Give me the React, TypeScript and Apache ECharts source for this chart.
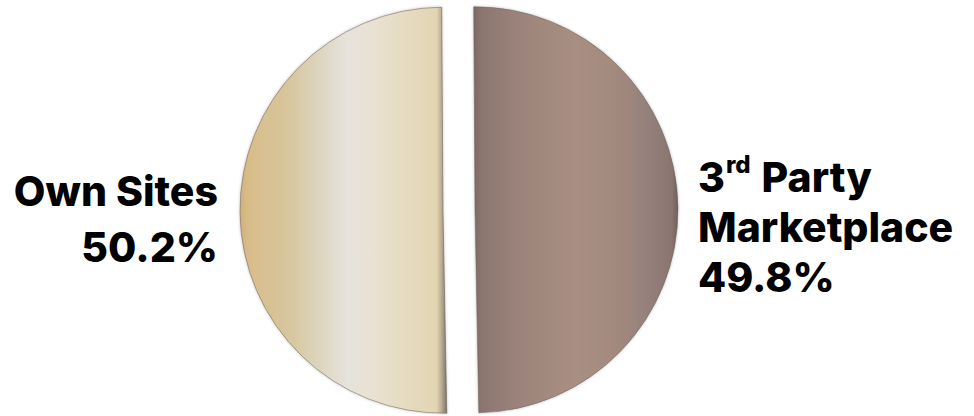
import React, { useEffect, useRef } from "react";
import * as echarts from "echarts";

const categories = ["Own Sites", "3rd Party Marketplace"];
const shares = [50.2, 49.8];
const labelLines = [["Own Sites"], ["3{sup|rd} Party", "Marketplace"]];

export default function App() {
  const ref = useRef<HTMLDivElement>(null);
  useEffect(() => {
    document.body.style.margin = "0";
    const chart = echarts.init(ref.current!, null, { renderer: "svg" });
    const leftGrad = new echarts.graphic.LinearGradient(0, 0, 1, 0, [
      { offset: 0, color: "#cfb07c" },
      { offset: 0.04, color: "#d8bd8a" },
      { offset: 0.23, color: "#d7c59c" },
      { offset: 0.39, color: "#dcd6c0" },
      { offset: 0.52, color: "#e6e3dc" },
      { offset: 0.64, color: "#e9e2d2" },
      { offset: 0.8, color: "#e6dbc0" },
      { offset: 0.95, color: "#e2d5b3" },
      { offset: 0.975, color: "#b8ab92" },
      { offset: 1, color: "#7a7068" },
    ]);
    const rightGrad = new echarts.graphic.LinearGradient(0, 0, 1, 0, [
      { offset: 0, color: "#7e6863" },
      { offset: 0.04, color: "#8c7670" },
      { offset: 0.2, color: "#9a827a" },
      { offset: 0.36, color: "#a38a7e" },
      { offset: 0.5, color: "#a88f82" },
      { offset: 0.69, color: "#a38a7e" },
      { offset: 0.86, color: "#94807a" },
      { offset: 0.97, color: "#8a7470" },
      { offset: 1, color: "#6e5e5a" },
    ]);
    const fills = [leftGrad, rightGrad];
    const labelPos = [
      { x: 218, y: 219, align: "right", lineHeight: 56 },
      { x: 698, y: 227, align: "left", lineHeight: 50 },
    ];
    const font = "Inter";
    const data = categories.map((name, i) => ({
      name,
      value: shares[i],
      selected: true,
      itemStyle: { color: fills[i] },
    }));
    const labels = categories.map((_, i) => ({
      type: "text",
      x: labelPos[i].x,
      y: labelPos[i].y,
      silent: true,
      style: {
        text: [...labelLines[i], shares[i].toFixed(1) + "%"].join("\n"),
        fill: "#000000",
        fontFamily: font,
        fontWeight: 800,
        fontSize: 41,
        lineHeight: labelPos[i].lineHeight,
        align: labelPos[i].align,
        verticalAlign: "middle",
        rich: {
          sup: {
            fontFamily: font,
            fontWeight: 800,
            fontSize: 24,
            fill: "#000000",
            verticalAlign: "top",
            lineHeight: 38,
            padding: [0, 2, 0, 1],
          },
        },
      },
    }));
    chart.setOption({
      animation: false,
      backgroundColor: "#ffffff",
      graphic: labels,
      series: [
        {
          type: "pie",
          center: [459, 210],
          radius: 203,
          startAngle: 90 + (shares[0] - 50) * 1.8,
          clockwise: false,
          selectedMode: "multiple",
          selectedOffset: 16,
          silent: true,
          data,
          itemStyle: {
            borderColor: "rgba(110,100,90,0.55)",
            borderWidth: 1,
            shadowBlur: 3,
            shadowColor: "rgba(0,0,0,0.25)",
          },
          labelLine: { show: false },
          label: { show: false },
        },
      ],
    });
    return () => chart.dispose();
  }, []);
  return (
    <div
      ref={ref}
      style={{ width: 974, height: 416, position: "absolute", left: 0, top: 0 }}
    />
  );
}
